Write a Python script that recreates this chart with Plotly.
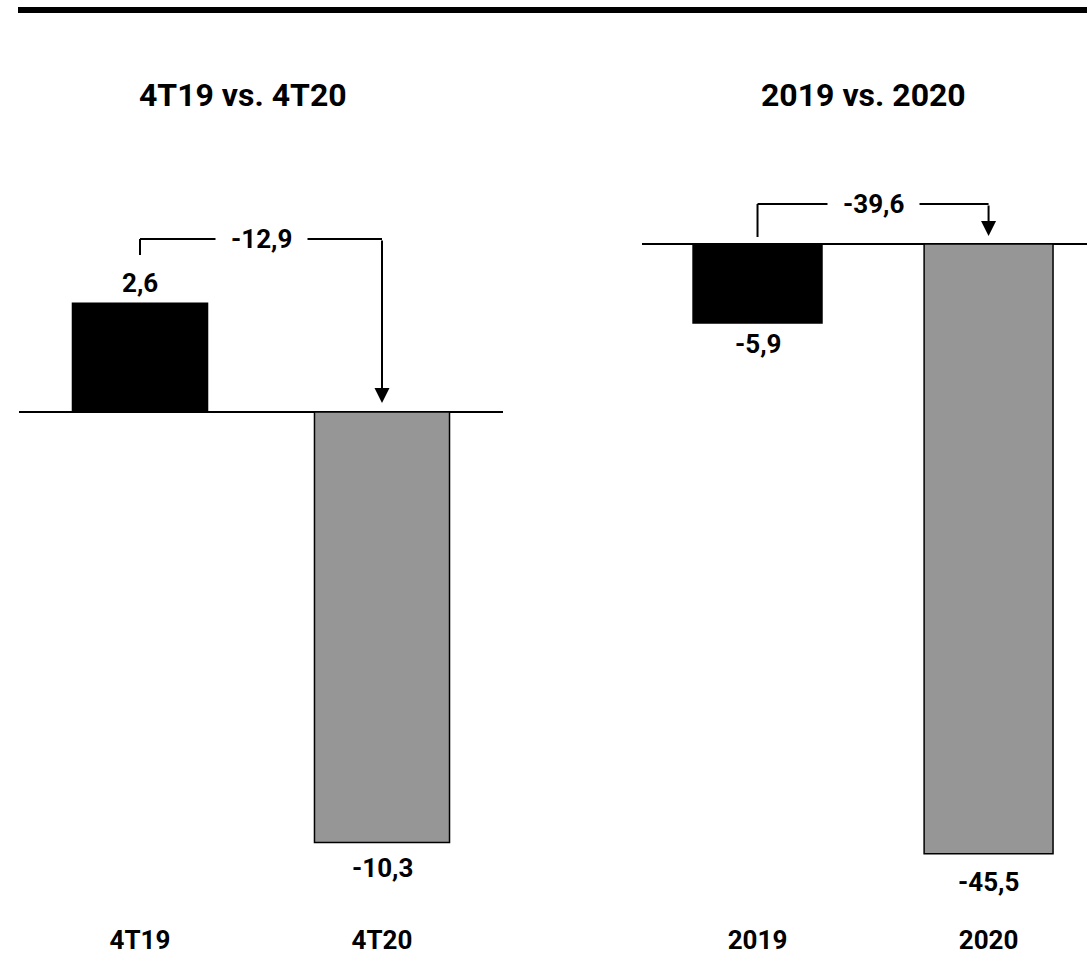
import plotly.graph_objects as go

# ---------------- data ----------------
quarter_categories = ["4T19", "4T20"]
quarter_values = [2.6, -10.3]
quarter_value_labels = ["2,6", "-10,3"]
quarter_change_label = "-12,9"

year_categories = ["2019", "2020"]
year_values = [-5.9, -45.5]
year_value_labels = ["-5,9", "-45,5"]
year_change_label = "-39,6"

panel_titles = ["4T19 vs. 4T20", "2019 vs. 2020"]
bar_colors = ["#000000", "#969696"]

# ---------------- layout constants ----------------
W, H = 1087, 956
FONT = "Roboto"
PLOT_BOTTOM_PX = 922          # bottom of plotting area (pixels from top)

# panel geometry: x domain in px, zero line px, px per unit, x range
LEFT = dict(x0=19, x1=503, zero=412, ppu=41.8, xr=[-0.5, 1.5])
RIGHT = dict(x0=642, x1=1087, zero=244, ppu=13.4, xr=[-0.5, 1.426])


def yrange(p):
    return [-(PLOT_BOTTOM_PX - p["zero"]) / p["ppu"], p["zero"] / p["ppu"]]


def above(p, px):
    """data value located px pixels above the zero line of panel p"""
    return px / p["ppu"]


fig = go.Figure()

label_font = dict(family=FONT, size=26, color="black", weight=700)
title_font = dict(family=FONT, size=32, color="black", weight=700)

panels = [
    (LEFT, "x", "y", quarter_categories, quarter_values, quarter_value_labels,
     quarter_change_label, [20, -25], dict(br=173, lv=157, tip=9)),
    (RIGHT, "x2", "y2", year_categories, year_values, year_value_labels,
     year_change_label, [-21, -28], dict(br=40, lv=7, tip=8)),
]

annotations = []
shapes = []

for p, xa, ya, cats, vals, labs, chg, shifts, br in panels:
    fig.add_trace(go.Bar(
        x=cats, y=vals, xaxis=xa, yaxis=ya,
        marker=dict(color=bar_colors, line=dict(color="black", width=1.5)),
        showlegend=False, hoverinfo="skip",
    ))
    idx = list(range(len(cats)))   # category positions on the axis
    # value labels
    for i, v, t, s in zip(idx, vals, labs, shifts):
        annotations.append(dict(
            x=i, y=v, xref=xa, yref=ya, text=t, showarrow=False,
            yshift=s, yanchor="middle", font=label_font,
        ))
    # change bracket
    yb = above(p, br["br"])
    shapes.append(dict(type="line", xref=xa, yref=ya, x0=idx[0], x1=idx[0],
                       y0=above(p, br["lv"]), y1=yb,
                       line=dict(color="black", width=2)))
    shapes.append(dict(type="line", xref=xa, yref=ya, x0=idx[0], x1=idx[1],
                       y0=yb, y1=yb, line=dict(color="black", width=2)))
    annotations.append(dict(
        x=idx[1], y=above(p, br["tip"]), xref=xa, yref=ya,
        ax=idx[1], ay=yb, axref=xa, ayref=ya, text="",
        showarrow=True, arrowhead=2, arrowsize=1.5, arrowwidth=2,
        arrowcolor="black",
    ))
    annotations.append(dict(
        x=(idx[0] + idx[1]) / 2, y=yb, xref=xa, yref=ya, text=chg,
        showarrow=False, bgcolor="white", borderpad=15, yanchor="middle",
        font=label_font,
    ))

# panel titles
for t, cx in zip(panel_titles, [243, 863]):
    annotations.append(dict(
        x=cx / W, y=1 - 95 / H, xref="paper", yref="paper", text=t,
        showarrow=False, xanchor="center", yanchor="middle", font=title_font,
    ))

# top thick rule
shapes.append(dict(type="line", xref="paper", yref="paper",
                   x0=18 / W, x1=1, y0=1 - 10 / H, y1=1 - 10 / H,
                   line=dict(color="black", width=6)))

ydom = [(H - PLOT_BOTTOM_PX) / H, 1]


def xaxis(p, anchor):
    return dict(domain=[p["x0"] / W, p["x1"] / W], range=p["xr"], anchor=anchor,
                type="category", showgrid=False, showline=False, zeroline=False,
                ticks="", tickfont=label_font, automargin=False, fixedrange=True)


def yaxis(p, anchor):
    return dict(domain=ydom, range=yrange(p), anchor=anchor, showgrid=False,
                showline=False, showticklabels=False, ticks="", zeroline=True,
                zerolinecolor="black", zerolinewidth=2, automargin=False,
                fixedrange=True)


fig.update_layout(
    width=W, height=H,
    margin=dict(l=0, r=0, t=0, b=0),
    paper_bgcolor="white", plot_bgcolor="white",
    bargap=0.442,
    xaxis=xaxis(LEFT, "y"), yaxis=yaxis(LEFT, "x"),
    xaxis2=xaxis(RIGHT, "y2"), yaxis2=yaxis(RIGHT, "x2"),
    annotations=annotations, shapes=shapes,
    showlegend=False,
)

fig.write_html(
    "out.html",
    config={"displayModeBar": False, "staticPlot": True},
    post_script="document.body.style.margin='0';document.body.style.overflow='hidden';",
)
